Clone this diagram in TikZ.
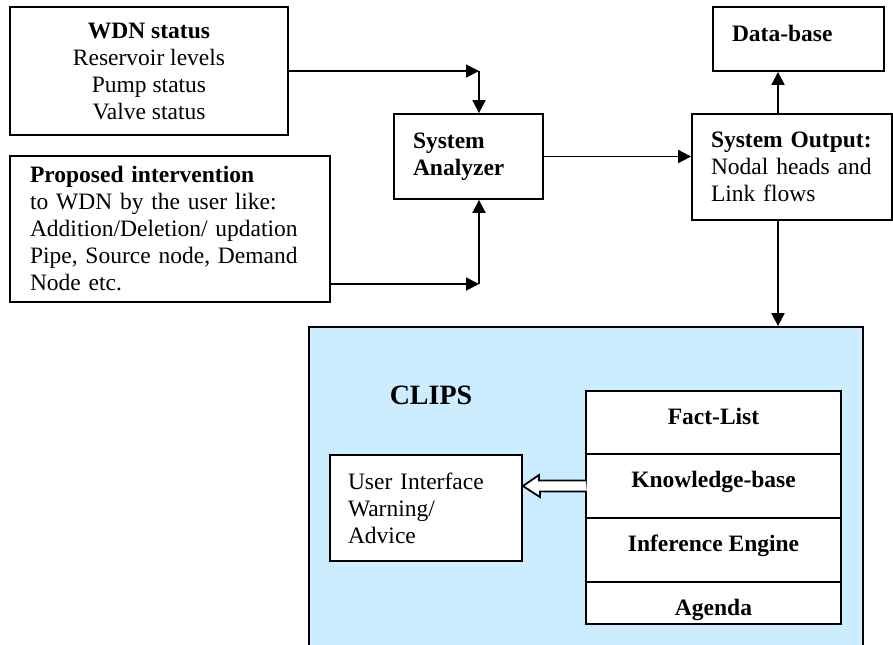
\documentclass[tikz,border=0pt]{standalone}
\usepackage{fontspec}
\setmainfont{Liberation Serif}
\usetikzlibrary{arrows.meta,positioning}
\definecolor{clipsblue}{RGB}{204,236,255}

\begin{document}
\begin{tikzpicture}[
        x=0.5pt, y=-0.5pt,
        line width=0.9pt,
        >={Triangle[length=6.5pt,width=6.5pt]},
        every node/.append style={font=\fontsize{11.75}{13.5}\selectfont},
        block/.style={draw, rectangle, fill=white, inner xsep=9.5pt, inner ysep=0pt},
        leftblock/.style={block, align=left},
        stackrow/.style={block, outer sep=0pt, minimum width=127.5pt, text height=16.5pt,
            font=\fontsize{11.75}{13.5}\selectfont\bfseries}
    ]
        \useasboundingbox (0,0) rectangle (893,644);

        % Nodes
        \node (wdn) [block, align=center, minimum width=139pt, minimum height=64pt] at (149,71)
            {\textbf{WDN status}\\Reservoir levels\\Pump status\\Valve status};
        \node (prop) [leftblock, text width=140pt, inner xsep=10pt, minimum height=73pt] at (170,229)
            {\textbf{Proposed intervention}\\to WDN by the user like:\\Addition/Deletion/ updation\\Pipe, Source node, Demand\\Node etc.};
        \node (ana) [leftblock, text width=55.5pt, minimum height=42.5pt] at (468.5,156.5)
            {\textbf{System}\\\textbf{Analyzer}};
        \node (out) [leftblock, text width=81pt, minimum height=53pt] at (792,167)
            {\textbf{System Output:}\\Nodal heads and\\Link flows};
        \node (db) [leftblock, text width=66.5pt, text height=17pt, text depth=15pt] at (798.5,39)
            {\textbf{Data-base}};

        % CLIPS
        \node (clips) [draw, fill=clipsblue, inner sep=0pt, minimum width=277pt, minimum height=176.5pt] at (586,503.5) {};
        \node (clipslabel) [font=\fontsize{14}{16}\selectfont\bfseries] at (431,395) {CLIPS};
        \node (ui) [leftblock, text width=78pt, inner xsep=9pt, minimum height=53pt] at (426,508)
            {User Interface\\Warning/\\Advice};
        \node (fact) [stackrow, anchor=north, text depth=15pt] at (713.5,391) {Fact-List};
        \node (know) [stackrow, below=0pt of fact, text depth=15.5pt] {Knowledge-base};
        \node (infer) [stackrow, below=0pt of know, text depth=15.5pt] {Inference Engine};
        \node (agenda) [stackrow, below=0pt of infer, text depth=4.5pt] {Agenda};

        % Connections
        \coordinate (jtop) at (479,71);
        \coordinate (jbot) at (479,284);
        \coordinate (dbx) at (778,0);
        \draw[->] (wdn.east) -- (jtop);
        \draw[->] (jtop) -- (jtop |- ana.north);
        \draw[->] (prop.east |- jbot) -- (jbot);
        \draw[->] (jbot) -- (jbot |- ana.south);
        \draw[->] (ana.east) -- (ana.east -| out.west);
        \draw[->] (out.north -| dbx) -- (dbx |- db.south);
        \draw[->] (out.south -| dbx) -- (dbx |- clips.north);

        % Hollow arrow to the user interface
        \filldraw[fill=white, line width=0.9pt] ([yshift=2.75pt]know.west) -- ++(-47,0) -- ++(0,-5.5)
            -- (ui.east |- know.west) -- ++(17,11) -- ++(0,-5.5) -- ++(47,0);

    \end{tikzpicture}
\end{document}
